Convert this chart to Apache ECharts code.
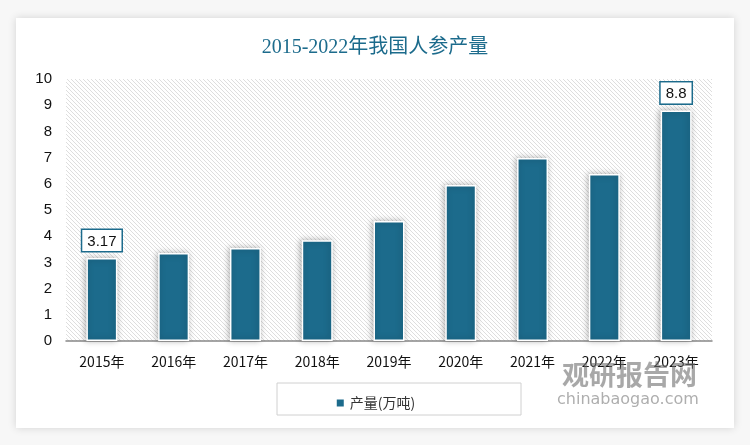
<!DOCTYPE html>
<html><head><meta charset="utf-8">
<script src="https://cdn.jsdelivr.net/npm/echarts@6/dist/echarts.min.js"></script>
<style>html,body{margin:0;padding:0;background:#f7f7f7;}#c{width:750px;height:445px;}</style>
</head><body><div id="c"></div>
<script>
const categories = ['2015年','2016年','2017年','2018年','2019年','2020年','2021年','2022年','2023年'];
const output = [3.17, 3.36, 3.55, 3.85, 4.58, 5.95, 6.98, 6.37, 8.8];
const yTicks = [0,1,2,3,4,5,6,7,8,9,10];
const labelled = [0, 8];

const pc = document.createElement('canvas');
pc.width = 4; pc.height = 4;
const g = pc.getContext('2d');
g.fillStyle = '#ffffff'; g.fillRect(0,0,4,4);
g.strokeStyle = '#dedede'; g.lineWidth = 1;
g.beginPath(); g.moveTo(-1,-1); g.lineTo(5,5); g.moveTo(-1,3); g.lineTo(1,5); g.moveTo(3,-1); g.lineTo(5,1); g.stroke();

const chart = echarts.init(document.getElementById('c'));
chart.setOption({
  animation:false,
  backgroundColor:'#f7f7f7',
  graphic:[
    {type:'rect', shape:{x:16,y:18,width:718,height:410}, style:{fill:'#fff', shadowBlur:8, shadowColor:'rgba(0,0,0,0.15)'}, z:-10},
    {type:'rect', shape:{x:277,y:383,width:244,height:32}, style:{fill:'none', stroke:'#d0d0d0', lineWidth:1}, z:5},
    {type:'text', left:562, top:361, style:{text:'观研报告网', font:'bold 27px "Noto Sans CJK SC"', fill:'rgba(110,110,110,0.6)'}, z:20},
    {type:'text', left:557, top:392, style:{text:'chinabaogao.com', font:'16px "DejaVu Sans"', fill:'rgba(120,120,120,0.6)'}, z:20}
  ],
  title:{text:'2015-2022年我国人参产量', left:'center', top:33,
    textStyle:{color:'#1c6b8c', fontSize:20, fontWeight:'normal', fontFamily:'"Liberation Serif","Noto Sans CJK SC"'}},
  grid:{left:66, right:38, top:79, bottom:104, show:true, borderWidth:0,
    backgroundColor:{image:pc, repeat:'repeat'}},
  legend:{top:391, left:'center', itemWidth:9, itemHeight:9, icon:'rect',
    textStyle:{fontSize:14, color:'#333', fontFamily:'"Noto Sans CJK SC"'}},
  xAxis:{type:'category', data:categories,
    axisLine:{lineStyle:{color:'#888', width:1.5}}, axisTick:{show:false},
    axisLabel:{color:'#111', fontSize:14, margin:14, fontFamily:'"Noto Sans CJK SC"'}},
  yAxis:{type:'value', min:yTicks[0], max:yTicks[yTicks.length-1], interval:1,
    splitLine:{show:false}, axisLine:{show:false}, axisTick:{show:false},
    axisLabel:{color:'#111', fontSize:15, margin:14, fontFamily:'"Liberation Sans"'}},
  series:[{name:'产量(万吨)', type:'bar', barWidth:31,
    data: output.map((v,i)=>({value:v, label:{show: labelled.includes(i)}})),
    itemStyle:{color:'#1c6b8c', borderColor:'#fff', borderWidth:1.5, shadowBlur:6, shadowColor:'rgba(0,0,0,0.3)', shadowOffsetX:-1},
    label:{position:'top', distance:7, color:'#111', fontSize:15, fontFamily:'"Liberation Sans"',
      backgroundColor:'#fff', borderColor:'#1c6b8c', borderWidth:1.5, padding:[4,5,2,5]}
  }]
});
</script></body></html>
